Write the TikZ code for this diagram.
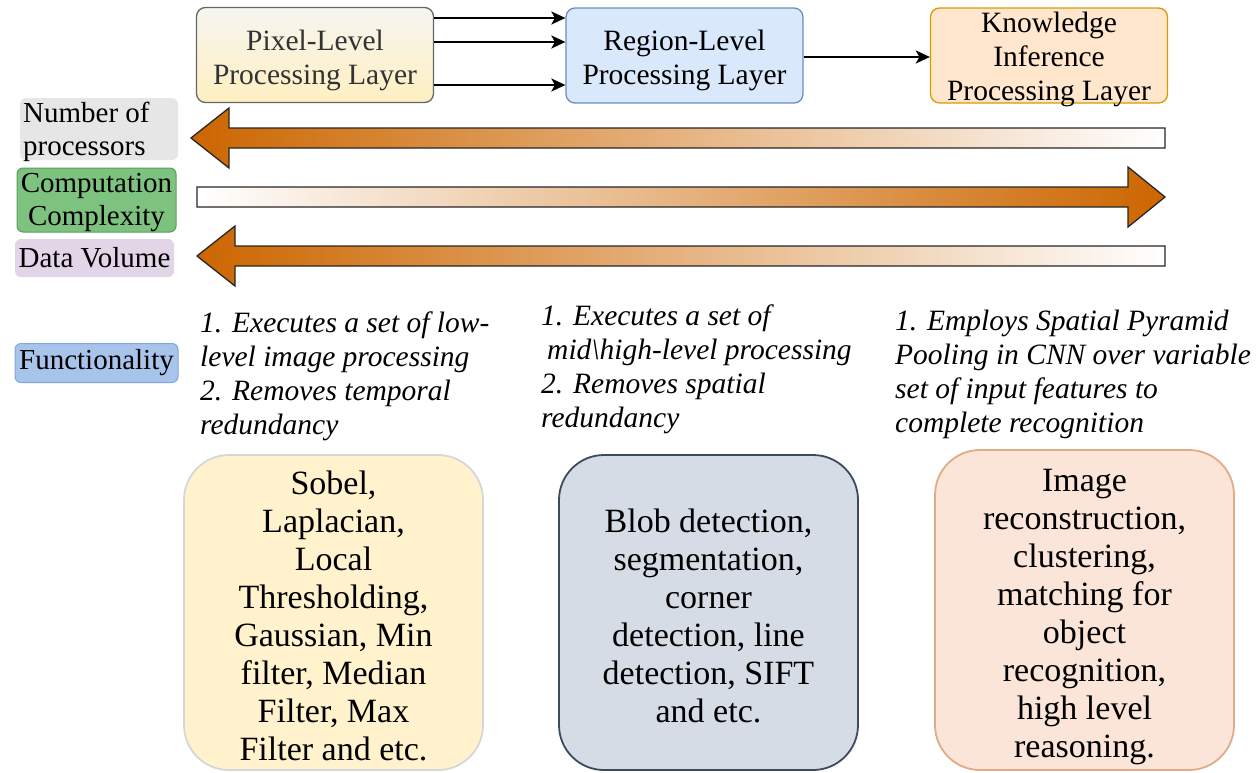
\documentclass[tikz,border=0pt]{standalone}
\usepackage{fontspec}
\setmainfont{Liberation Serif}
\usetikzlibrary{arrows.meta}

\definecolor{pixTop}{HTML}{F6F5F0}
\definecolor{pixBot}{HTML}{FFF0C2}
\definecolor{pixLine}{HTML}{666666}
\definecolor{regFill}{HTML}{DAE8FC}
\definecolor{regLine}{HTML}{6C8EBF}
\definecolor{kinFill}{HTML}{FFE6CC}
\definecolor{kinLine}{HTML}{D79B00}
\definecolor{procFill}{HTML}{E6E6E6}
\definecolor{compFill}{HTML}{7EC27F}
\definecolor{compLine}{HTML}{5A9E5C}
\definecolor{dataFill}{HTML}{E1D5E7}
\definecolor{funcFill}{HTML}{A9C4EB}
\definecolor{funcLine}{HTML}{7EA6E0}
\definecolor{deepOrange}{HTML}{CC6600}
\definecolor{lowFill}{HTML}{FFF2CC}
\definecolor{lowLine}{HTML}{D6D6D6}
\definecolor{midFill}{HTML}{D6DCE5}
\definecolor{midLine}{HTML}{3D4A5C}
\definecolor{highFill}{HTML}{FAE5D8}
\definecolor{highLine}{HTML}{E0AC88}

\begin{document}
\begin{tikzpicture}[x=1pt,y=-1pt,
  layerbox/.style={draw, rounded corners=9pt, line width=1.3pt,
    minimum width=237pt, minimum height=95pt, inner sep=0pt},
  layertext/.style={align=center, font=\fontsize{29.5}{34}\selectfont, inner sep=0pt},
  flow/.style={-{Stealth[length=14pt,width=13pt,inset=3.5pt]}, line width=2pt},
  tag/.style={rounded corners=6pt, font=\fontsize{29}{33}\selectfont, inner sep=1pt},
  trend/.style={draw=black!85, line width=1.3pt, line join=miter},
  desc/.style={align=left, font=\fontsize{29.5}{34}\selectfont\itshape,
    inner sep=0pt, anchor=north west},
  method/.style={rounded corners=45pt, line width=1.8pt, minimum width=299pt,
    inner sep=0pt},
  methodtext/.style={align=center, font=\fontsize{34}{38}\selectfont, inner sep=0pt}
]
\useasboundingbox (0,0) rectangle (1257,772);

% processing layers
\node[layerbox, top color=pixTop, bottom color=pixBot, draw=pixLine] (pix)
  at (315,55) {};
\node[layertext, text=black!80] (pixT) at (315,60) {Pixel-Level\\Processing Layer};
\node[layerbox, fill=regFill, draw=regLine] (reg) at (684.5,55.5) {};
\node[layertext] (regT) at (684.5,60.5) {Region-Level\\Processing Layer};
\node[layerbox, fill=kinFill, draw=kinLine] (kin) at (1049,55.5) {};
\node[layertext] (kinT) at (1049,59.5) {Knowledge\\Inference\\Processing Layer};

\draw[flow] (pix.east |- 0,18) -- (reg.west |- 0,18);
\draw[flow] (pix.east |- 0,42) -- (reg.west |- 0,42);
\draw[flow] (pix.east |- 0,85) -- (reg.west |- 0,85);
\draw[flow] (reg.east |- 0,57) -- (kin.west |- 0,57);

% row labels
\node[tag, fill=procFill, minimum width=158pt, minimum height=62pt] (nproc)
  at (99,129) {};
\node[align=left, font=\fontsize{29}{33}\selectfont, inner sep=0pt,
  anchor=west] (nprocT) at (23,131.5) {Number of\\processors};
\node[tag, fill=compFill, draw=compLine, line width=1pt, minimum width=159pt,
  minimum height=64pt] (ncomp) at (96.5,200) {};
\node[align=center, font=\fontsize{29}{33}\selectfont, inner sep=0pt] (ncompT)
  at (96.5,203) {Computation\\Complexity};
\node[tag, fill=dataFill, minimum width=159pt, minimum height=38pt] (ndata)
  at (94.5,258) {Data Volume};
\node[tag, fill=funcFill, draw=funcLine, line width=1pt, minimum width=163pt,
  minimum height=39pt] (nfunc) at (96.5,363) {Functionality};

% trend arrows
\shadedraw[trend, left color=deepOrange, right color=white]
  (1165,128) -- (229,128) -- (229,108) -- (191,138) -- (229,168)
  -- (229,148) -- (1165,148) -- cycle;
\shadedraw[trend, left color=white, right color=deepOrange]
  (197,187) -- (1128,187) -- (1128,167) -- (1165,197) -- (1128,227)
  -- (1128,207) -- (197,207) -- cycle;
\shadedraw[trend, left color=deepOrange, right color=white]
  (1165,246) -- (235,246) -- (235,226) -- (197,256) -- (235,286)
  -- (235,266) -- (1165,266) -- cycle;

% functionality descriptions
\node[desc] (d1) at (200,312)
  {1. Executes a set of low-\\level image processing\\2. Removes temporal\\redundancy};
\node[desc] (d2) at (541,305)
  {1. Executes a set of\\\hspace*{6pt}mid\textbackslash high-level processing\\2. Removes spatial\\redundancy};
\node[desc] (d3) at (895,310)
  {1. Employs Spatial Pyramid\\Pooling in CNN over variable\\set of input features to\\complete recognition};

% example methods
\node[method, fill=lowFill, draw=lowLine, minimum height=315pt] (m1)
  at (333.5,612.5) {};
\node[methodtext] (m1T) at (333.5,615.5)
  {Sobel,\\Laplacian,\\Local\\Thresholding,\\Gaussian, Min\\filter, Median\\Filter, Max\\Filter and etc.};
\node[method, fill=midFill, draw=midLine, minimum height=315pt] (m2)
  at (708.5,612.5) {};
\node[methodtext] (m2T) at (708.5,615.5)
  {Blob detection,\\segmentation,\\corner\\detection, line\\detection, SIFT\\and etc.};
\node[method, fill=highFill, draw=highLine, minimum height=320pt] (m3)
  at (1084.5,610) {};
\node[methodtext] (m3T) at (1084.5,617)
  {Image\\reconstruction,\\clustering,\\matching for\\object\\recognition,\\high level\\reasoning.};
\end{tikzpicture}
\end{document}
